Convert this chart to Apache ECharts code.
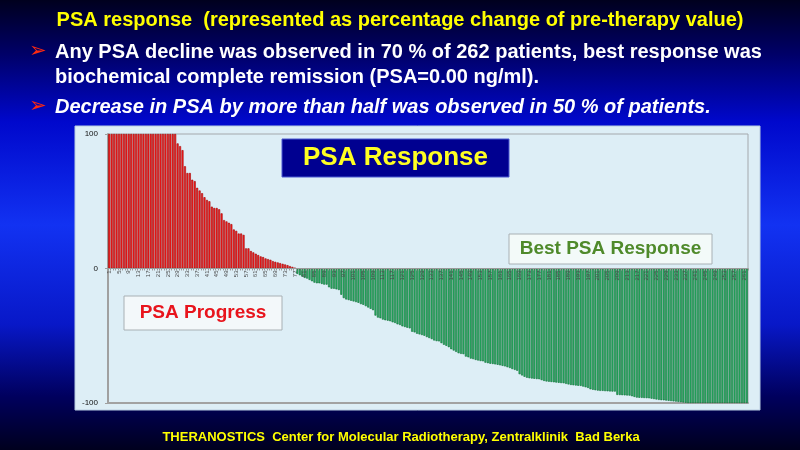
<!DOCTYPE html>
<html>
<head>
<meta charset="utf-8">
<script src="https://cdn.jsdelivr.net/npm/echarts@6/dist/echarts.min.js"></script>
<style>
  html, body { margin: 0; padding: 0; background: #000030; }
  #chart { width: 800px; height: 450px; }
</style>
</head>
<body>
<div id="chart"></div>
<script>
// 各患者PSA变化（%），按降序排列：正值=进展，负值=下降
const psaProgress = [
  100, 100, 100, 100, 100, 100, 100, 100, 100, 100,
  100, 100, 100, 100, 100, 100, 100, 100, 100, 100,
  100, 100, 100, 100, 100, 100, 100, 100, 93, 91,
  88, 76, 71, 71, 66, 65, 60, 58, 56, 53,
  51, 50, 46, 45, 45, 44, 41, 36, 35, 34,
  33, 29, 28, 26, 26, 25, 15, 15, 13, 12,
  11, 10, 9, 8.5, 7.5, 7, 6.5, 5.5, 5, 4.5,
  4, 3.5, 3, 2.5, 1.8, 1.2, 0.6
];
const psaDecline = [
  -4, -5, -6, -7, -7.5, -8.5, -9.5, -10.5, -11, -11,
  -11.5, -12, -12, -14, -15, -15, -15.5, -16, -19.5, -22,
  -23, -23.5, -24, -24.5, -25, -25.5, -26.5, -27, -28, -29,
  -30, -31, -35, -36.5, -37, -38, -38.5, -38.8, -39.2, -40,
  -40.5, -41.5, -42, -43, -43.5, -44, -44.5, -47, -47.5, -48.5,
  -49, -49.5, -50, -51, -51.7, -52.5, -53.5, -54, -54.2, -55.5,
  -56.7, -57.5, -58.5, -60, -61, -62, -63, -63.5, -63.7, -65.5,
  -66, -67, -67.4, -68, -68.4, -68.8, -69, -70, -70.4, -70.8,
  -71, -71.3, -71.6, -72, -72.4, -72.8, -73.4, -74, -74.8, -75.4,
  -76, -78.6, -79.5, -80.5, -81.2, -81.6, -81.8, -82, -82.2, -82.3,
  -83, -83.6, -84, -84.2, -84.4, -84.6, -84.8, -85, -85.2, -85.3,
  -85.8, -86.2, -86.6, -86.8, -87, -87.2, -87.3, -87.8, -88.3, -88.8,
  -89.8, -90.2, -90.5, -90.8, -91, -91, -91.2, -91.3, -91.4, -91.5,
  -91.5, -94, -94.1, -94.2, -94.3, -94.4, -94.5, -95, -95.5, -96,
  -96.1, -96.2, -96.3, -96.4, -96.5, -96.8, -97.1, -97.4, -97.7, -97.9,
  -98, -98.2, -98.4, -98.6, -98.8, -99, -99.2, -99.4, -99.6, -99.8,
  -100, -100, -100, -100, -100, -100, -100, -100, -100, -100,
  -100, -100, -100, -100, -100, -100, -100, -100, -100, -100,
  -100, -100, -100, -100, -100
];
const psaChange = psaProgress.concat(psaDecline);

// 患者编号 1..262
const patients = psaChange.map((v, i) => String(i + 1));

// y轴刻度
const yTicks = { min: -100, max: 100, interval: 100 };

const titleText = 'PSA response  (represented as percentage change of pre-therapy value)';
const bulletLines = [
  'Any PSA decline was observed in 70 % of 262 patients, best response was',
  'biochemical complete remission (PSA=0.00 ng/ml).',
  'Decrease in PSA by more than half was observed in 50 % of patients.'
];
const footerText = 'THERANOSTICS  Center for Molecular Radiotherapy, Zentralklinik  Bad Berka';

const FONT = '"Liberation Sans", Arial, sans-serif';

// 绘图区位置
const GRID = { left: 108, right: 52, top: 134, bottom: 47 };
const plotHeight = 450 - GRID.top - GRID.bottom;

const chart = echarts.init(document.getElementById('chart'), null, { renderer: 'canvas' });

// 文本框
function labelBox(x, y, w, h, text, fill, stroke, color, size) {
  return {
    type: 'group',
    z: 100,
    children: [
      { type: 'rect', shape: { x: x, y: y, width: w, height: h },
        style: { fill: fill, stroke: stroke, lineWidth: 1 }, z: 100 },
      { type: 'text', x: x + w / 2, y: y + h / 2, z: 101,
        style: { text: text, fill: color, font: 'bold ' + size + 'px ' + FONT,
                 textAlign: 'center', textVerticalAlign: 'middle' } }
    ]
  };
}

// 项目符号箭头
function arrow(y) {
  return { type: 'text', x: 29, y: y, z: 50,
    style: { text: '➢', fill: '#ff2a10', font: '21px "DejaVu Sans"',
             textVerticalAlign: 'middle' } };
}

const option = {
  backgroundColor: {
    type: 'linear', x: 0, y: 0, x2: 0, y2: 1,
    colorStops: [
      { offset: 0, color: '#00001e' },
      { offset: 0.12, color: '#000068' },
      { offset: 0.27, color: '#0008cc' },
      { offset: 0.5, color: '#1232f2' },
      { offset: 0.72, color: '#0818c8' },
      { offset: 0.88, color: '#00005e' },
      { offset: 1, color: '#00001e' }
    ]
  },
  animation: false,
  grid: {
    left: GRID.left, right: GRID.right, top: GRID.top, bottom: GRID.bottom,
    show: true, backgroundColor: 'transparent',
    borderColor: '#a4a8ac', borderWidth: 1
  },
  xAxis: [{
    type: 'category',
    data: patients,
    z: 10,
    position: 'bottom',
    offset: -plotHeight / 2,
    axisLine: { onZero: false, lineStyle: { color: '#9a9a9a', width: 1 } },
    axisTick: { show: true, interval: 0, length: 2, lineStyle: { color: '#9a9a9a' } },
    axisLabel: {
      interval: 3, rotate: 90, fontSize: 6, color: '#4a4a4a', margin: 2,
      fontFamily: FONT
    },
    splitLine: { show: false }
  }, {
    // 底部边框线
    type: 'category',
    data: patients,
    position: 'bottom',
    axisLine: { onZero: false, lineStyle: { color: '#a2a2a2', width: 2 } },
    axisTick: { show: false },
    axisLabel: { show: false }
  }],
  yAxis: {
    type: 'value',
    min: yTicks.min, max: yTicks.max, interval: yTicks.interval,
    axisLine: { show: true, lineStyle: { color: '#a0a0a0', width: 2 } },
    axisTick: { show: true, length: 3, lineStyle: { color: '#a0a0a0' } },
    axisLabel: { fontSize: 8, color: '#111', margin: 10, fontFamily: FONT },
    splitLine: { show: false }
  },
  series: [{
    type: 'bar',
    xAxisIndex: 0,
    barCategoryGap: '18%',
    data: psaChange.map(v => ({
      value: v,
      itemStyle: v >= 0
        ? { color: '#ff2020', borderColor: '#a00000', borderWidth: 0.6 }
        : { color: '#2db86a', borderColor: '#0b6a32', borderWidth: 0.6 }
    }))
  }],
  graphic: [
    // 图表面板
    { type: 'rect', z: -10, shape: { x: 75, y: 126, width: 685, height: 284 },
      style: { fill: '#ddeef6', stroke: '#b8cce0', lineWidth: 1 } },
    // 标题
    { type: 'text', x: 400, y: 20, z: 50,
      style: { text: titleText, fill: '#ffff00', font: 'bold 20px ' + FONT,
               textAlign: 'center', textVerticalAlign: 'middle' } },
    // 项目符号
    arrow(52),
    { type: 'text', x: 55, y: 52, z: 50,
      style: { text: bulletLines[0], fill: '#ffffff', font: 'bold 20px ' + FONT,
               textVerticalAlign: 'middle' } },
    { type: 'text', x: 55, y: 77, z: 50,
      style: { text: bulletLines[1], fill: '#ffffff', font: 'bold 20px ' + FONT,
               textVerticalAlign: 'middle' } },
    arrow(107),
    { type: 'text', x: 55, y: 107, z: 50,
      style: { text: bulletLines[2], fill: '#ffffff', font: 'italic bold 20px ' + FONT,
               textVerticalAlign: 'middle' } },
    // 图内文本框
    labelBox(282, 139, 227, 38, 'PSA Response', '#000090', '#4a58d0', '#ffff22', 26),
    labelBox(509, 234, 203, 30, 'Best PSA Response', '#f3faf9', '#a8b0b4', '#4f8a2b', 19),
    labelBox(124, 296, 158, 34, 'PSA Progress', '#f3f8fa', '#a8b0b4', '#e8141c', 19),
    // 页脚
    { type: 'text', x: 401, y: 437, z: 50,
      style: { text: footerText, fill: '#ffff00', font: 'bold 13px ' + FONT,
               textAlign: 'center', textVerticalAlign: 'middle' } }
  ]
};

chart.setOption(option);
</script>
</body>
</html>
